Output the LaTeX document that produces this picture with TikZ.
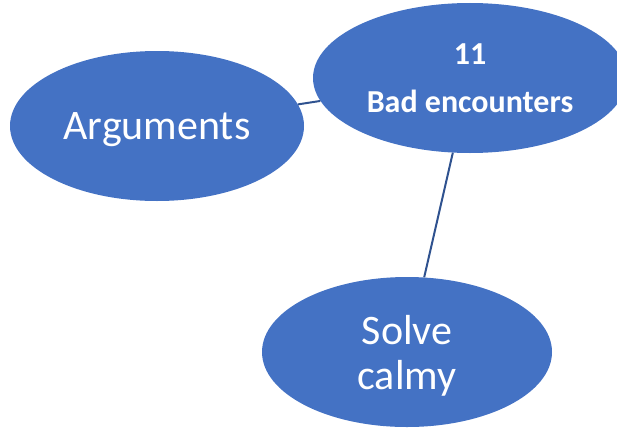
\documentclass[tikz,border=0pt]{standalone}
\usepackage{fontspec}
\setmainfont{Carlito}
\usetikzlibrary{shapes.geometric}
\definecolor{bubble}{HTML}{4472C4}
\definecolor{link}{HTML}{2F528F}
\tikzset{
  bubble/.style={ellipse, fill=bubble, draw=none, inner sep=0pt, text=white,
    align=center, text depth=0pt},
  link/.style={draw=link, line width=2pt}
}
\begin{document}
\begin{tikzpicture}[x=1pt, y=-1pt]
  \useasboundingbox (0,0) rectangle (617,428);
  \clip (0,0) rectangle (617,428);
  \node[bubble, minimum width=294pt, minimum height=150pt, font=\fontsize{42}{45}\selectfont]
    (arg) at (157,126) {Arguments};
  \node[bubble, minimum width=314pt, minimum height=150pt, font=\fontsize{32}{48}\selectfont\bfseries]
    (bad) at (470,78) {11\\Bad encounters};
  \node[bubble, minimum width=290pt, minimum height=150pt, font=\fontsize{42}{45}\selectfont]
    (calm) at (407,352) {Solve\\calmy};
  \draw[link] (arg) -- (bad);
  \draw[link] (bad) -- (calm);
\end{tikzpicture}
\end{document}
